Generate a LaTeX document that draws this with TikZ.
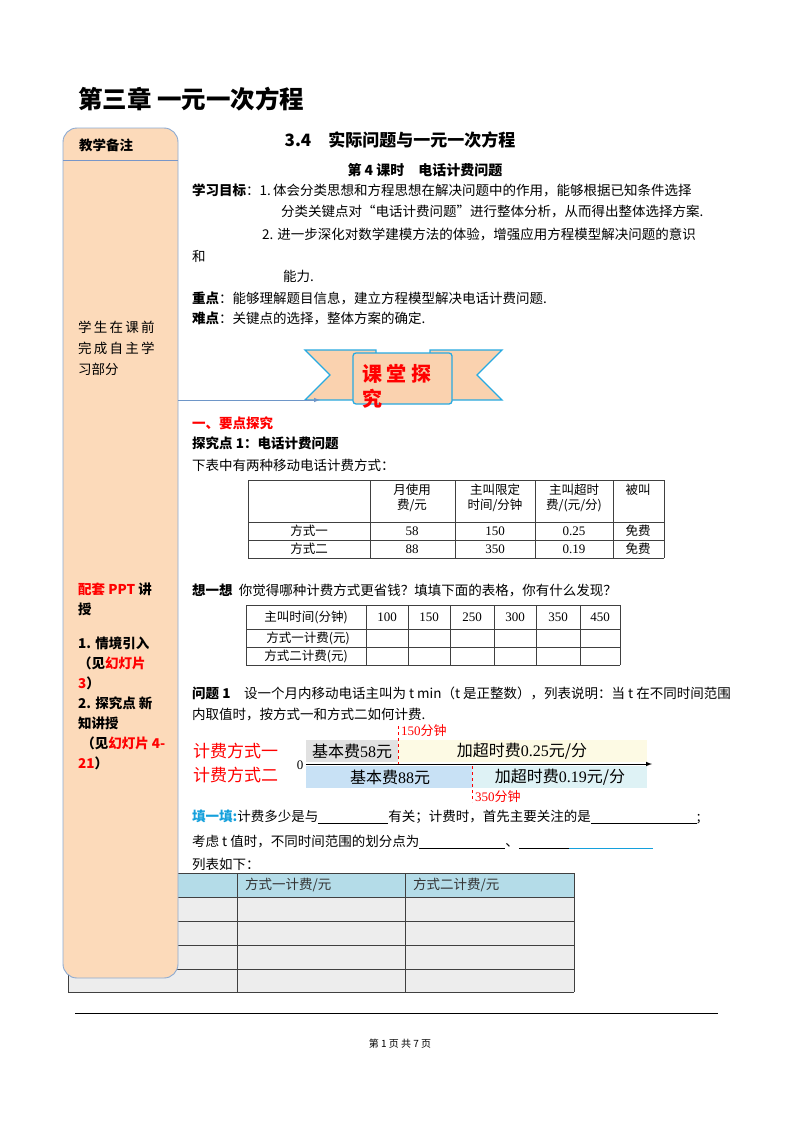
\documentclass[tikz,border=0pt]{standalone}
\usepackage{fontspec}
\setmainfont{Noto Sans CJK SC}
\newfontfamily\cjk{Noto Sans CJK SC}
\newfontfamily\serif{Liberation Serif}
\definecolor{sidefill}{RGB}{252,218,186}
\definecolor{sidedraw}{RGB}{140,170,210}
\definecolor{sideline}{RGB}{120,150,200}
\definecolor{arrowc}{RGB}{110,150,200}
\definecolor{banfill}{RGB}{250,210,175}
\definecolor{bandraw}{RGB}{40,170,225}
\definecolor{headblue}{RGB}{180,220,232}
\definecolor{bar1}{RGB}{225,225,225}
\definecolor{bar2}{RGB}{253,250,228}
\definecolor{bar3}{RGB}{200,225,245}
\definecolor{bar4}{RGB}{222,242,245}
\definecolor{tianc}{RGB}{20,160,220}
\newcommand\blankline[2][black]{{\color{#1}\underline{\makebox[#2]{}}}}
\begin{document}
\begin{tikzpicture}[x=1pt,y=-1pt,
  txt/.style={anchor=west,inner sep=0pt,font=\fontsize{13.5}{16}\selectfont},
  bold/.style={txt,font=\fontsize{13.5}{16}\selectfont\bfseries},
  side/.style={anchor=north west,inner sep=0pt,font=\fontsize{13.5}{20}\selectfont\bfseries,align=left},
  cell/.style={inner sep=0pt,font=\fontsize{12.5}{14.5}\selectfont,align=center},
  tline/.style={draw=black!75,line width=0.7pt}]
\useasboundingbox (0,0) rectangle (800,1132);
\fill[white] (0,0) rectangle (800,1132);
% bottom table (under sidebar)
\fill[headblue] (68,873) rectangle (574,897);
\fill[black!7] (68,897) rectangle (574,992);
\foreach \y in {873,897,921,945,969,992} \draw[tline] (68,\y) -- (574,\y);
\foreach \x in {68,237,405,574} \draw[tline] (\x,873) -- (\x,992);
\node[txt,text=black!80] (b1) at (245,885) {方式一计费/元};
\node[txt,text=black!80] (b2) at (413,885) {方式二计费/元};
% sidebar
\draw[fill=sidefill,draw=sidedraw,line width=0.9pt,rounded corners=14pt] (63,128) rectangle (178,978);
\draw[sideline,line width=0.8pt] (63,160) -- (178,160);
\node[bold] (sh) at (79,145) {教学备注};
\node[side,font=\fontsize{13.5}{21}\selectfont] (s1) at (78,321) {学\,生\,在\,课\,前\\完\,成\,自\,主\,学\\习部分};
\node[side] (s2) at (78,583) {\textcolor{red}{配套 PPT} 讲\\授\\[14pt]1. 情境引入\\ （见\textcolor{red}{幻灯片}\\\textcolor{red}{3}）\\2. 探究点 新\\知讲授\\ \ （见\textcolor{red}{幻灯片 4-}\\\textcolor{red}{21}）};
% titles
\node[anchor=west,inner sep=0pt,font=\fontsize{24.5}{28}\selectfont\bfseries] (t0) at (78,99) {第三章\ 一元一次方程};
\node[inner sep=0pt,font=\fontsize{17}{20}\selectfont\bfseries] (t1) at (400,140) {3.4\quad 实际问题与一元一次方程};
\node[inner sep=0pt,font=\fontsize{14}{16}\selectfont\bfseries] (t2) at (425,170) {第 4 课时\quad 电话计费问题};
\node[txt] (g1) at (192,190) {\textbf{学习目标}：1.\,体会分类思想和方程思想在解决问题中的作用，能够根据已知条件选择};
\node[txt] (g2) at (281,212) {分类关键点对“电话计费问题”进行整体分析，从而得出整体选择方案.};
\node[txt] (g3) at (262,234) {2. 进一步深化对数学建模方法的体验，增强应用方程模型解决问题的意识};
\node[txt] (g4) at (192,256) {和};
\node[txt] (g5) at (283,276) {能力.};
\node[txt] (g6) at (192,298) {\textbf{重点}：能够理解题目信息，建立方程模型解决电话计费问题.};
\node[txt] (g7) at (192,318) {\textbf{难点}：关键点的选择，整体方案的确定.};
% banner
\tikzset{ban/.style={fill=banfill,draw=bandraw,line width=1.3pt}}
\draw[ban] (305,350) -- (376,350) -- (376,400) -- (305,400) -- (330,375) -- cycle;
\draw[ban] (502,350) -- (430,350) -- (430,400) -- (502,400) -- (477,375) -- cycle;
\draw[ban,rounded corners=3pt] (353,353) rectangle (452,404);
\node[anchor=north west,inner sep=0pt,align=left,font=\fontsize{20}{25}\selectfont\bfseries,text=red] (bt) at (362,364) {课 堂 探\\究};
\coordinate (a1) at (178,400);
\coordinate (a2) at (320,400);
\draw[arrowc,line width=1pt,-latex] (a1) -- (a2);
% section
\node[txt,text=red,font=\fontsize{13.5}{16}\selectfont\bfseries] (h1) at (192,423) {一、要点探究};
\node[bold] (h2) at (192,443) {探究点 1：电话计费问题};
\node[txt] (h3) at (192,465) {下表中有两种移动电话计费方式：};
% table 1
\foreach \y in {480,522,540,558} \draw[tline] (248,\y) -- (664,\y);
\foreach \x in {248,370,455,535,613,664} \draw[tline] (\x,480) -- (\x,558);
\node[cell] (c1) at (412,498) {月使用\\费/元};
\node[cell] (c2) at (495,498) {主叫限定\\时间/分钟};
\node[cell] (c3) at (574,498) {主叫超时\\费/(元/分)};
\node[cell] (c4) at (638,490) {被叫};
\node[cell] (r1) at (309,531) {方式一};
\node[cell] (r2) at (309,549) {方式二};
\node[cell,font=\serif\fontsize{13}{14}\selectfont] at (412,531) {58};
\node[cell,font=\serif\fontsize{13}{14}\selectfont] at (495,531) {150};
\node[cell,font=\serif\fontsize{13}{14}\selectfont] at (574,531) {0.25};
\node[cell] at (638,531) {免费};
\node[cell,font=\serif\fontsize{13}{14}\selectfont] at (412,549) {88};
\node[cell,font=\serif\fontsize{13}{14}\selectfont] at (495,549) {350};
\node[cell,font=\serif\fontsize{13}{14}\selectfont] at (574,549) {0.19};
\node[cell] at (638,549) {免费};
\node[txt] (q1) at (192,590) {\textbf{想一想}\ \ 你觉得哪种计费方式更省钱？填填下面的表格，你有什么发现？};
% table 2
\foreach \y in {605,629,647,665} \draw[tline] (246,\y) -- (620,\y);
\foreach \x in {246,366,408,450,494,536,580,620} \draw[tline] (\x,605) -- (\x,665);
\node[cell] (d0) at (306,617) {主叫时间(分钟)};
\foreach \v/\x in {100/387,150/429,250/472,300/515,350/558,450/600}
  \node[cell,font=\serif\fontsize{13}{14}\selectfont] at (\x,617) {\v};
\node[cell] (d1) at (308,638) {方式一计费(元)};
\node[cell] (d2) at (306,656) {方式二计费(元)};
% problem 1
\node[txt] (p1) at (192,693) {\textbf{问题 1}\quad 设一个月内移动电话主叫为 t min（t 是正整数），列表说明：当 t 在不同时间范围};
\node[txt] (p2) at (192,715) {内取值时，按方式一和方式二如何计费.};
% bar diagram
\fill[bar1] (306,740) rectangle (398,762);
\fill[bar2] (398,740) rectangle (647,762);
\fill[bar3] (306,766) rectangle (472,788);
\fill[bar4] (472,766) rectangle (647,788);
\coordinate (o) at (306,764);
\coordinate (e) at (652,764);
\draw[line width=1pt,-latex] (o) -- (e);
\draw[red,dashed,line width=0.7pt] (398,726) -- (398,764);
\draw[red,dashed,line width=0.7pt] (472,766) -- (472,802);
\node[txt,text=red,font=\fontsize{17}{19}\selectfont] (L1) at (193,751) {计费方式一};
\node[txt,text=red,font=\fontsize{17}{19}\selectfont] (L2) at (193,775) {计费方式二};
\node[inner sep=0pt,font=\serif\fontsize{13}{14}\selectfont] (z) at (300,765) {0};
\node[inner sep=0pt,font=\fontsize{16}{18}\selectfont] (k1) at (352,751) {基本费{\serif 58}元};
\node[inner sep=0pt,font=\fontsize{16}{18}\selectfont] (k2) at (522,751) {加超时费{\serif 0.25}元/分};
\node[inner sep=0pt,font=\fontsize{16}{18}\selectfont] (k3) at (390,777) {基本费{\serif 88}元};
\node[inner sep=0pt,font=\fontsize{16}{18}\selectfont] (k4) at (560,777) {加超时费{\serif 0.19}元/分};
\node[txt,text=red,font=\fontsize{13}{14}\selectfont] (m1) at (401,731) {{\serif 150}分钟};
\node[txt,text=red,font=\fontsize{13}{14}\selectfont] (m2) at (475,797) {{\serif 350}分钟};
% fill in
\node[txt] (f1) at (192,817) {\textcolor{tianc}{\textbf{填一填:}}计费多少是与\blankline{70pt}有关；计费时，首先主要关注的是\blankline{106pt};};
\node[txt] (f2) at (192,842) {考虑 t 值时，不同时间范围的划分点为\blankline{86pt}、\blankline{50pt}\blankline[tianc]{84pt}};
\node[txt] (f3) at (192,864) {列表如下：};
% footer
\draw[line width=0.8pt] (75,1013) -- (718,1013);
\node[inner sep=0pt,font=\fontsize{10}{12}\selectfont] (ft) at (400,1044) {第 1 页 共 7 页};
\end{tikzpicture}
\end{document}
